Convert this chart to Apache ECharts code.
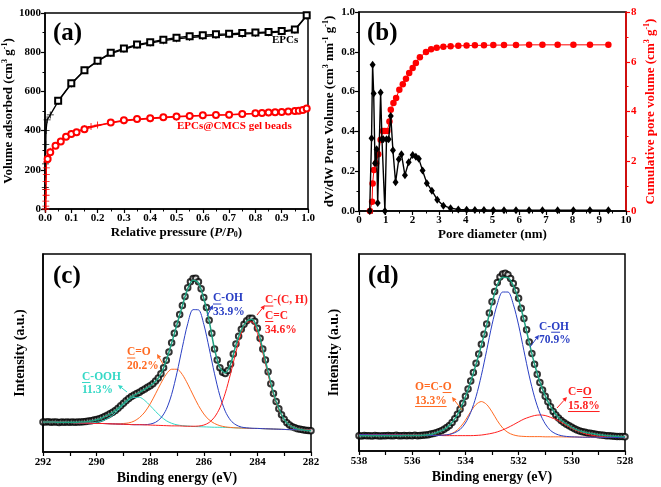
<!DOCTYPE html>
<html><head><meta charset="utf-8">
<script src="https://cdn.jsdelivr.net/npm/echarts@6/dist/echarts.min.js"></script>
<style>html,body{margin:0;padding:0;background:#fff}#c{width:661px;height:487px}</style>
</head><body><div id="c"></div>
<script>
// ---------- (a) N2 isotherms ----------
const epcsAdsP = [0.05,0.1,0.15,0.2,0.25,0.3,0.35,0.4,0.45,0.5,0.55,0.6,0.65,0.7,0.75,0.8,0.85,0.9,0.95,0.995];
const epcsAdsV = [552,641,708,756,797,819,839,851,864,874,882,887,891,894,898,900,903,908,916,988];
const epcsDesP = [0.995,0.95,0.9,0.85,0.8,0.75,0.7,0.65,0.6,0.55,0.5,0.45,0.4,0.35,0.3,0.25,0.2,0.15,0.1,0.05,0.02,0.008,0.004,0.003,0.002,0.001,0.0005];
const epcsDesV = [985,912,904,899,896,892,889,885,880,875,868,859,847,835,815,793,754,706,638,549,480,455,400,330,230,110,0];
const gelAdsP = [0.01,0.02,0.04,0.06,0.08,0.1,0.12,0.15,0.25,0.3,0.35,0.4,0.45,0.5,0.55,0.6,0.65,0.7,0.75,0.8,0.825,0.85,0.875,0.9,0.925,0.95,0.965,0.98,0.995];
const gelAdsV = [255,290,323,344,369,383,392,407,441,453,459,463,468,472,475,478,480,481,485,488,490,492,493,495,498,500,501,505,513];
const gelDesP = [0.995,0.95,0.9,0.85,0.8,0.7,0.6,0.5,0.4,0.3,0.2,0.175,0.15,0.1,0.05,0.02,0.01,0.006,0.005,0.005,0.004,0.004,0.004,0.003,0.003,0.003];
const gelDesV = [513,500,494,491,487,480,476,470,461,450,428,421,410,385,330,295,262,240,210,175,140,100,70,40,15,0];

// ---------- (b) pore size distribution ----------
const poreD  = [0.40,0.47,0.51,0.55,0.60,0.66,0.70,0.81,0.86,0.91,0.97,1.03,1.11,1.19,1.27,1.37,1.49,1.59,1.72,1.86,2.01,2.13,2.24,2.38,2.54,2.73,2.93,3.16,3.43,3.72,4.03,4.34,4.68,5.03,5.43,5.88,6.37,6.87,7.44,8.03,8.65,9.34];
const poreDV = [0.0,0.365,0.735,0.59,0.24,0.31,0.04,0.595,0.36,0.36,0.0,0.36,0.36,0.478,0.305,0.145,0.26,0.285,0.18,0.245,0.282,0.272,0.262,0.204,0.14,0.102,0.057,0.027,0.014,0.008,0.006,0.005,0.005,0.004,0.004,0.004,0.004,0.004,0.004,0.004,0.004,0.004];
const cumD = [0.41,0.49,0.51,0.56,0.64,0.72,0.81,0.89,0.97,1.06,1.14,1.19,1.29,1.39,1.51,1.64,1.76,1.88,2.01,2.13,2.28,2.51,2.70,2.91,3.16,3.43,3.72,4.03,4.34,4.68,5.03,5.43,5.88,6.37,6.87,7.44,8.03,8.65,9.34];
const cumV = [0.0,0.37,1.11,1.65,1.92,2.28,2.86,3.22,3.22,3.22,3.6,4.07,4.34,4.54,4.87,5.1,5.32,5.55,5.75,5.95,6.18,6.39,6.5,6.56,6.6,6.62,6.64,6.65,6.66,6.66,6.67,6.67,6.67,6.68,6.68,6.68,6.68,6.68,6.68];

// ---------- (c) C1s ----------
const c1sStart = 292, c1sDataStep = -0.1, c1sFitStep = -0.2;
const c1sData = [15.2,15.1,15.3,15.0,15.2,15.1,14.9,15.1,15.0,15.2,
 15.0,15.1,15.0,15.2,15.1,15.3,15.4,15.6,15.8,16.1,
 16.4,16.8,17.3,17.9,18.6,19.3,20.1,21.0,22.1,23.3,
 24.6,25.9,27.0,28.0,28.8,29.5,30.2,31.0,31.8,32.7,
 33.5,34.5,35.8,37.4,39.5,42.5,46.3,50.5,55.2,60.0,
 64.6,69.5,74.0,78.5,83.0,86.0,87.6,87.7,86.0,82.5,
 78.0,73.0,66.5,60.0,52.0,46.5,42.5,40.3,39.7,41.2,
 44.5,49.5,54.5,58.5,62.0,64.5,66.3,67.5,67.6,66.0,
 62.5,57.5,52.0,46.5,40.5,34.5,29.5,25.5,21.8,18.8,
 16.5,14.8,13.6,12.8,12.2,11.8,11.5,11.2,11.0,10.8,
 10.7];
const c1sEnvelope = [15.1,15.1,15.1,15.0,15.0,15.0,15.0,15.1,15.3,15.7,16.3,17.2,18.5,20.0,22.0,24.5,26.9,28.7,30.1,31.7,33.4,35.7,39.4,46.2,55.0,64.5,73.8,82.5,86.8,85.4,77.5,66.2,52.0,42.6,39.9,44.4,54.2,61.7,66.0,67.0,62.2,51.8,40.4,29.6,21.8,16.4,13.5,12.1,11.4,11.0,10.7];
const c1sCOOH = [15.3,15.2,15.1,15.0,15.0,14.9,14.8,14.7,14.7,14.8,15.0,15.7,16.8,18.6,21.1,23.8,26.2,27.6,27.6,26.0,23.4,20.5,17.9,15.8,14.5,13.7,13.3,13.1,12.9,12.8,12.7,12.6,12.5,12.5,12.4,12.3,12.2,12.1,12.0,11.9,11.9,11.8,11.7,11.6,11.5,11.4,11.3,11.3,11.2,11.1,11.0];
const c1sCO = [15.3,15.2,15.1,15.0,15.0,14.9,14.8,14.7,14.6,14.5,14.4,14.4,14.3,14.2,14.2,14.4,14.7,15.6,17.4,20.2,24.3,29.4,34.7,39.3,41.8,41.8,39.1,34.3,28.8,23.5,19.2,16.2,14.4,13.3,12.7,12.4,12.2,12.1,12.0,11.9,11.9,11.8,11.7,11.6,11.5,11.4,11.3,11.3,11.2,11.1,11.0];
const c1sCOH = [15.3,15.2,15.1,15.0,15.0,14.9,14.8,14.7,14.6,14.5,14.4,14.4,14.3,14.2,14.1,14.0,13.9,13.8,13.8,13.8,14.1,15.0,17.2,21.5,29.1,40.1,52.9,64.8,71.9,71.8,64.5,52.4,39.5,28.4,20.6,16.0,13.7,12.6,12.2,12.0,11.9,11.8,11.7,11.6,11.5,11.4,11.3,11.3,11.2,11.1,11.0];
const c1sCC = [15.3,15.2,15.1,15.0,15.0,14.9,14.8,14.7,14.6,14.5,14.4,14.4,14.3,14.2,14.1,14.0,13.9,13.8,13.8,13.7,13.6,13.5,13.4,13.3,13.2,13.2,13.1,13.0,13.0,13.1,13.6,14.9,17.6,22.3,29.7,39.6,50.5,60.1,65.7,65.7,59.9,50.1,39.0,28.9,21.3,16.4,13.6,12.2,11.5,11.2,11.0];

// ---------- (d) O1s ----------
const o1sStart = 538, o1sDataStep = -0.1, o1sFitStep = -0.2;
const o1sData = [7.8,7.6,7.9,7.7,7.8,7.6,7.9,7.8,7.6,7.8,
 7.7,7.9,7.7,7.8,8.0,7.7,7.8,7.9,7.7,7.9,
 7.8,8.0,7.8,7.9,8.0,8.1,8.3,8.6,8.9,9.3,
 9.8,10.3,11.0,11.9,13.0,14.5,16.4,18.6,21.2,24.2,
 27.8,31.5,35.5,39.8,44.5,49.3,54.2,59.3,64.5,70.0,
 75.8,81.0,85.5,88.3,89.8,90.2,89.5,87.6,85.0,81.5,
 77.5,72.5,67.2,61.5,55.3,49.5,44.0,39.0,34.8,31.0,
 27.8,25.0,22.4,20.1,18.3,16.8,15.5,14.5,13.6,12.8,
 12.0,11.3,10.7,10.2,9.8,9.5,9.2,9.0,8.7,8.5,
 8.3,8.1,8.0,7.8,7.7,7.6,7.5,7.4,7.4,7.3,
 7.2];
const o1sEnvelope = [7.8,7.8,7.8,7.8,7.8,7.8,7.8,7.8,7.8,7.9,7.9,7.9,8.0,8.2,8.8,9.8,11.0,13.0,16.3,21.0,27.5,35.2,44.0,53.7,64.0,75.0,84.3,88.2,88.0,84.0,76.8,66.6,55.0,44.0,35.0,28.0,22.6,18.5,15.6,13.6,12.0,10.7,9.8,9.2,8.7,8.3,8.0,7.7,7.5,7.4,7.2];
const o1sCOH = [8.3,8.3,8.2,8.2,8.2,8.2,8.1,8.1,8.1,8.0,8.0,8.0,7.9,7.9,7.9,7.9,8.1,8.4,9.3,10.9,14.2,19.6,27.6,38.4,51.1,64.1,74.6,80.7,80.7,74.5,63.9,50.9,38.1,27.3,19.2,13.8,10.4,8.7,7.8,7.4,7.2,7.1,7.0,7.0,7.0,7.0,6.9,6.9,6.9,6.8,6.8];
const o1sOCO = [8.3,8.3,8.2,8.2,8.2,8.2,8.1,8.1,8.1,8.0,8.0,8.0,7.9,7.9,7.9,7.9,8.1,8.5,9.7,12.0,15.6,20.0,23.6,25.1,23.6,19.9,15.4,11.7,9.4,8.2,7.6,7.4,7.3,7.3,7.3,7.2,7.2,7.2,7.2,7.1,7.1,7.1,7.0,7.0,7.0,7.0,6.9,6.9,6.9,6.8,6.8];
const o1sCdO = [8.3,8.3,8.2,8.2,8.2,8.2,8.1,8.1,8.1,8.0,8.0,8.0,7.9,7.9,7.9,7.9,7.8,7.8,7.8,7.8,7.8,7.8,7.9,8.1,8.5,9.0,9.7,10.7,11.9,13.3,14.8,16.2,17.2,18.0,18.3,18.0,17.1,16.0,14.6,13.0,11.5,10.3,9.2,8.4,7.9,7.5,7.2,7.1,6.9,6.9,6.8];

// ---------- helpers ----------
const FF = '"Liberation Serif", "Times New Roman", serif';
function zip(xs, ys){ return xs.map((x,i)=>[x, ys[i]]); }
function onGrid(start, step, ys){ return ys.map((y,i)=>[+(start + step*i).toFixed(2), y]); }
const PLUS = 'path://M4.4,0H5.6V10H4.4ZM0,4.4H10V5.6H0Z';

function richName(size, color){
  const base = {fontFamily:FF, fontWeight:'bold', fontSize:size, color:color};
  return {
    t: base,
    i: Object.assign({}, base, {fontStyle:'italic'}),
    s: Object.assign({}, base, {fontSize:Math.round(size*0.62), verticalAlign:'top', padding:[0,0,7,0]}),
    b: Object.assign({}, base, {fontSize:Math.round(size*0.62), verticalAlign:'bottom', padding:[5,0,0,0]})
  };
}
const tickLab = {fontFamily:FF, fontWeight:'bold', fontSize:11, color:'#000'};
function axBase(extra){
  return Object.assign({
    type:'value',
    axisLine:{show:true, onZero:false, lineStyle:{color:'#000', width:1.5}},
    axisTick:{show:true, inside:false, length:4, lineStyle:{color:'#000', width:1.2}},
    minorTick:{show:true, splitNumber:2, length:2.5, lineStyle:{color:'#000', width:1}},
    splitLine:{show:false}, minorSplitLine:{show:false},
    axisLabel:Object.assign({margin:4}, tickLab),
    nameLocation:'middle'
  }, extra);
}

// ---------- annotation graphics ----------
const mctx = document.createElement('canvas').getContext('2d');
function tw(text, font){ mctx.font = font; return mctx.measureText(text).width; }
const gfx = [];
function addText(x, y, text, color, size, ul){
  const font = 'bold ' + size + 'px ' + FF;
  gfx.push({type:'text', z:100, style:{x:x, y:y, text:text, font:font, fill:color,
    textAlign:'left', textVerticalAlign:'middle', align:'left', verticalAlign:'middle'}});
  if (ul){
    const x1 = x + tw(text.slice(0, ul[0]), font), x2 = x + tw(text.slice(0, ul[1]), font);
    const yy = y + size*0.48;
    gfx.push({type:'line', z:100, shape:{x1:x1, y1:yy, x2:x2, y2:yy}, style:{stroke:color, lineWidth:1}});
  }
}
function addArrow(x1, y1, x2, y2, color){
  const a = Math.atan2(y2-y1, x2-x1), L = 4.5, W = 2.2;
  const bx = x2 - L*Math.cos(a), by = y2 - L*Math.sin(a);
  const px = -Math.sin(a)*W, py = Math.cos(a)*W;
  gfx.push({type:'line', z:100, shape:{x1:x1, y1:y1, x2:bx, y2:by}, style:{stroke:color, lineWidth:1}});
  gfx.push({type:'polygon', z:100, shape:{points:[[x2,y2],[bx+px,by+py],[bx-px,by-py]]}, style:{fill:color}});
}

const cCyan = '#35d8c6', cOrange = '#ff6a22', cBlue = '#2a3fc4', cRed = '#ff1f1f', cGreen = '#1f9f7f';

addText(53, 34, '(a)', '#000', 25);
addText(367, 34, '(b)', '#000', 25);
addText(53, 277, '(c)', '#000', 25);
addText(368, 277, '(d)', '#000', 25);
addText(272, 40, 'EPCs', '#000', 11);
addText(177, 126.5, 'EPCs@CMCS gel beads', '#ff0000', 11);

addText(82, 377, 'C-OOH', cCyan, 11.5, [0,1]);
addText(82, 390.5, '11.3%', cCyan, 11.5);
addText(127, 352.5, 'C=O', cOrange, 11.5, [0,1]);
addText(127, 366, '20.2%', cOrange, 11.5);
addText(213, 298.5, 'C-OH', cBlue, 11.5, [0,1]);
addText(213, 312.5, '33.9%', cBlue, 11.5);
addText(265, 300.5, 'C-(C, H)', cRed, 11.5, [0,1]);
addText(265, 316, 'C=C', cRed, 11.5, [0,1]);
addText(265, 330.5, '34.6%', cRed, 11.5);
addArrow(127, 392, 118, 385, cCyan);
addArrow(163, 364, 157, 354, cOrange);
addArrow(207, 316, 213, 305, cBlue);
addArrow(257, 315, 265, 305, cRed);

addText(539, 326.7, 'C-OH', cBlue, 11.5, [2,3]);
addText(539, 340, '70.9%', cBlue, 11.5);
addText(415, 387, 'O=C-O', cOrange, 11.5, [4,5]);
addText(415, 401, '13.3%', cOrange, 11.5, [0,5]);
addText(568, 392, 'C=O', cRed, 11.5, [2,3]);
addText(568, 406, '15.8%', cRed, 11.5, [0,5]);
addArrow(530, 347, 539, 335, cBlue);
addArrow(462, 410, 452, 397, cOrange);
addArrow(557, 408, 567, 397, cRed);

// ---------- chart ----------
const chart = echarts.init(document.getElementById('c'), null, {renderer:'canvas'});
const gridStyle = {show:true, borderColor:'#000', borderWidth:1.5, backgroundColor:'transparent'};
const plain = v => String(Math.round(v));
const option = {
  animation:false,
  backgroundColor:'#fff',
  grid:[
    Object.assign({left:45, top:13, width:263, height:196}, gridStyle),
    Object.assign({left:359, top:12, width:267, height:199}, gridStyle),
    Object.assign({left:43, top:254, width:268, height:198}, gridStyle),
    Object.assign({left:359, top:254, width:266, height:197}, gridStyle)
  ],
  xAxis:[
    axBase({gridIndex:0, min:0, max:1, interval:0.1,
      axisLabel:Object.assign({margin:4, formatter:v=>v.toFixed(1)}, tickLab),
      name:'{t|Relative pressure (}{i|P}{t|/}{i|P}{b|0}{t|)}', nameGap:17,
      nameTextStyle:{rich:richName(13,'#000')}}),
    axBase({gridIndex:1, min:0, max:10, interval:1,
      axisLabel:Object.assign({margin:4, formatter:plain}, tickLab),
      name:'{t|Pore diameter (nm)}', nameGap:17, nameTextStyle:{rich:richName(13,'#000')}}),
    axBase({gridIndex:2, min:282, max:292, interval:1, inverse:true,
      minorTick:{show:false},
      axisLabel:Object.assign({margin:5, formatter:v=>(Math.round(v)%2===0?String(Math.round(v)):'')}, tickLab),
      name:'{t|Binding energy (eV)}', nameGap:19, nameTextStyle:{rich:richName(14,'#000')}}),
    axBase({gridIndex:3, min:528, max:538, interval:1, inverse:true,
      minorTick:{show:false},
      axisLabel:Object.assign({margin:5, formatter:v=>(Math.round(v)%2===0?String(Math.round(v)):'')}, tickLab),
      name:'{t|Binding energy (eV)}', nameGap:19, nameTextStyle:{rich:richName(14,'#000')}})
  ],
  yAxis:[
    axBase({gridIndex:0, min:0, max:1000, interval:200,
      axisLabel:Object.assign({margin:4, formatter:plain}, tickLab),
      name:'{t|Volume adsorbed (cm}{s|3}{t| g}{s|-1}{t|)}', nameGap:26, nameRotate:90,
      nameTextStyle:{rich:richName(13,'#000')}}),
    axBase({gridIndex:1, min:0, max:1, interval:0.2,
      axisLabel:Object.assign({margin:4, formatter:v=>v.toFixed(1)}, tickLab),
      name:'{t|dV/dW Pore Volume (cm}{s|3}{t| nm}{s|-1}{t| g}{s|-1}{t|)}', nameGap:22, nameRotate:90,
      nameTextStyle:{rich:richName(13,'#000')}}),
    axBase({gridIndex:1, position:'right', min:0, max:8, interval:2,
      axisLine:{show:true, onZero:false, lineStyle:{color:'#ff0000', width:1.5}},
      axisTick:{show:true, inside:false, length:4, lineStyle:{color:'#ff0000', width:1.2}},
      minorTick:{show:true, splitNumber:2, length:2.5, lineStyle:{color:'#ff0000', width:1}},
      axisLabel:Object.assign({}, tickLab, {margin:5, color:'#ff0000', formatter:plain}),
      name:'{t|Cumulative pore volume (cm}{s|3}{t| g}{s|-1}{t|)}', nameGap:17, nameRotate:90,
      nameTextStyle:{rich:richName(13,'#ff0000')}}),
    axBase({gridIndex:2, min:0, max:100, axisTick:{show:false}, minorTick:{show:false},
      axisLabel:{show:false},
      name:'{t|Intensity (a.u.)}', nameGap:16, nameRotate:90, nameTextStyle:{rich:richName(14,'#000')}}),
    axBase({gridIndex:3, min:0, max:100, axisTick:{show:false}, minorTick:{show:false},
      axisLabel:{show:false},
      name:'{t|Intensity (a.u.)}', nameGap:18, nameRotate:90, nameTextStyle:{rich:richName(14,'#000')}})
  ],
  series:[
    // (a)
    {type:'line', xAxisIndex:0, yAxisIndex:0, data:zip(epcsDesP, epcsDesV), symbol:PLUS, symbolSize:7,
      itemStyle:{color:'#000'}, lineStyle:{color:'#000', width:1.3}},
    {type:'line', xAxisIndex:0, yAxisIndex:0, data:zip(epcsAdsP, epcsAdsV), symbol:'emptyRect', symbolSize:6,
      itemStyle:{color:'#000', borderWidth:1.1}, lineStyle:{color:'#000', width:1.3}},
    {type:'line', xAxisIndex:0, yAxisIndex:0, data:zip(gelDesP, gelDesV), symbol:PLUS, symbolSize:7,
      itemStyle:{color:'#ff0000'}, lineStyle:{color:'#ff0000', width:1.3}},
    {type:'line', xAxisIndex:0, yAxisIndex:0, data:zip(gelAdsP, gelAdsV), symbol:'emptyCircle', symbolSize:6,
      itemStyle:{color:'#ff0000', borderWidth:1.1}, lineStyle:{color:'#ff0000', width:1.3}},
    // (b)
    {type:'line', xAxisIndex:1, yAxisIndex:2, data:zip(cumD, cumV), symbol:'circle', symbolSize:6.5,
      itemStyle:{color:'#ff0000'}, lineStyle:{color:'#ff0000', width:1}, z:2},
    {type:'line', xAxisIndex:1, yAxisIndex:1, data:zip(poreD, poreDV), symbol:'diamond', symbolSize:[6,8],
      itemStyle:{color:'#000'}, lineStyle:{color:'#000', width:1.4}, z:3},
    // (c)
    {type:'scatter', xAxisIndex:2, yAxisIndex:3, data:onGrid(c1sStart, c1sDataStep, c1sData), symbol:'emptyCircle', symbolSize:5.5,
      itemStyle:{color:'#000', borderWidth:1}, z:2},
    {type:'line', xAxisIndex:2, yAxisIndex:3, data:onGrid(c1sStart, c1sFitStep, c1sCOOH), symbol:'none', smooth:0.3,
      lineStyle:{color:cCyan, width:1}, z:3},
    {type:'line', xAxisIndex:2, yAxisIndex:3, data:onGrid(c1sStart, c1sFitStep, c1sCO), symbol:'none', smooth:0.3,
      lineStyle:{color:cOrange, width:1}, z:3},
    {type:'line', xAxisIndex:2, yAxisIndex:3, data:onGrid(c1sStart, c1sFitStep, c1sCOH), symbol:'none', smooth:0.3,
      lineStyle:{color:cBlue, width:1}, z:3},
    {type:'line', xAxisIndex:2, yAxisIndex:3, data:onGrid(c1sStart, c1sFitStep, c1sCC), symbol:'none', smooth:0.3,
      lineStyle:{color:cRed, width:1}, z:3},
    {type:'line', xAxisIndex:2, yAxisIndex:3, data:onGrid(c1sStart, c1sFitStep, c1sEnvelope), symbol:'none', smooth:0.3,
      lineStyle:{color:cGreen, width:1.5}, z:4},
    // (d)
    {type:'scatter', xAxisIndex:3, yAxisIndex:4, data:onGrid(o1sStart, o1sDataStep, o1sData), symbol:'emptyCircle', symbolSize:5.5,
      itemStyle:{color:'#000', borderWidth:1}, z:2},
    {type:'line', xAxisIndex:3, yAxisIndex:4, data:onGrid(o1sStart, o1sFitStep, o1sOCO), symbol:'none', smooth:0.3,
      lineStyle:{color:cOrange, width:1}, z:3},
    {type:'line', xAxisIndex:3, yAxisIndex:4, data:onGrid(o1sStart, o1sFitStep, o1sCdO), symbol:'none', smooth:0.3,
      lineStyle:{color:cRed, width:1}, z:3},
    {type:'line', xAxisIndex:3, yAxisIndex:4, data:onGrid(o1sStart, o1sFitStep, o1sCOH), symbol:'none', smooth:0.3,
      lineStyle:{color:cBlue, width:1}, z:3},
    {type:'line', xAxisIndex:3, yAxisIndex:4, data:onGrid(o1sStart, o1sFitStep, o1sEnvelope), symbol:'none', smooth:0.3,
      lineStyle:{color:cGreen, width:1.5}, z:4}
  ],
  graphic:{elements:gfx}
};
chart.setOption(option);
</script></body></html>
